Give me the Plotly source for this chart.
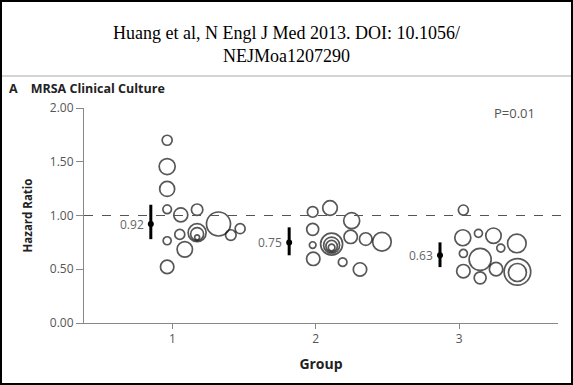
import plotly.graph_objects as go

# ---------------- data ----------------
groups = [1, 2, 3]
group_labels = ["1", "2", "3"]

# pooled estimates per group
est_x = [0.85, 1.815, 2.867]
est_hr = [0.92, 0.75, 0.63]
est_lo = [0.78, 0.63, 0.52]
est_hi = [1.10, 0.89, 0.75]
est_labels = ["0.92", "0.75", "0.63"]

# hospital-level hazard ratios (bubbles), weight = bubble radius in px
g1_x = [0.964, 0.964, 0.964, 0.964, 1.059, 1.173, 1.322, 1.473, 1.408, 0.964, 1.052,
        1.173, 1.173, 1.173, 1.087, 0.964]
g1_hr = [1.70, 1.455, 1.247, 1.058, 1.005, 1.054, 0.921, 0.877, 0.818, 0.765, 0.824,
         0.84, 0.827, 0.797, 0.685, 0.522]
g1_w = [5, 8, 7.5, 4.3, 7, 5.7, 12, 5, 5.3, 4, 5, 9, 6.5, 2.5, 7.7, 6.7]

g2_x = [1.979, 2.10, 2.251, 1.979, 1.979, 2.111, 2.111, 2.111, 2.111, 2.244, 2.349,
        2.462, 1.983, 2.188, 2.309]
g2_hr = [1.033, 1.07, 0.952, 0.871, 0.725, 0.734, 0.724, 0.715, 0.703, 0.802, 0.781,
         0.756, 0.597, 0.566, 0.498]
g2_w = [5.3, 7.3, 8, 6, 3.3, 11, 8, 5.7, 3.3, 6.7, 6.3, 9.3, 6.7, 4.3, 6.7]

g3_x = [3.03, 3.026, 3.135, 3.24, 3.291, 3.403, 3.03, 3.147, 3.258, 3.03, 3.147,
        3.407, 3.407]
g3_hr = [1.051, 0.793, 0.834, 0.812, 0.697, 0.74, 0.647, 0.591, 0.501, 0.482, 0.42,
         0.476, 0.47]
g3_w = [5, 8, 4, 7.7, 4, 9.3, 4, 11, 6.7, 6.7, 6, 13.3, 9]

y_ticks = [0, 0.5, 1.0, 1.5, 2.0]
y_tick_labels = ["0.00", "0.50", "1.00", "1.50", "2.00"]

# ---------------- layout geometry ----------------
W, H = 573, 385
ML, MR, MT, MB = 84, 15, 108, 62
PW, PH = W - ML - MR, H - MT - MB


def px_x(px):
    return (px - ML) / PW


def px_y(py):
    return (H - MB - py) / PH


fig = go.Figure()

for gx, gy, gw in [(g1_x, g1_hr, g1_w), (g2_x, g2_hr, g2_w), (g3_x, g3_hr, g3_w)]:
    fig.add_trace(go.Scatter(
        x=gx, y=gy, mode="markers",
        marker=dict(symbol="circle", size=[2 * w for w in gw],
                    color="rgba(0,0,0,0)",
                    line=dict(color="#111111", width=1.7)),
        hoverinfo="skip", showlegend=False, cliponaxis=False,
    ))

fig.add_trace(go.Scatter(
    x=est_x, y=est_hr, mode="markers",
    marker=dict(symbol="circle", size=6, color="#000000"),
    error_y=dict(type="data", symmetric=False,
                 array=[h - e for h, e in zip(est_hi, est_hr)],
                 arrayminus=[e - l for e, l in zip(est_hr, est_lo)],
                 thickness=3, width=0, color="#000000"),
    hoverinfo="skip", showlegend=False,
))

for x, y, t in zip(est_x, est_hr, est_labels):
    fig.add_annotation(x=x, y=y, text=t, showarrow=False, xanchor="right",
                       yanchor="middle", xshift=-5,
                       font=dict(family="Open Sans", size=12, color="#666666"))

fig.add_annotation(x=3.39, y=1.955, text="P=0.01", showarrow=False,
                   xanchor="center", yanchor="middle",
                   font=dict(family="Open Sans", size=13, color="#555555"))

# reference dashed line at HR = 1
fig.add_shape(type="line", xref="paper", yref="y", x0=0, x1=px_x(566), y0=1, y1=1,
              line=dict(color="#555555", width=1, dash="dash"))

# header separator and outer frame
fig.add_shape(type="line", xref="paper", yref="paper", x0=px_x(2), x1=px_x(573),
              y0=px_y(76), y1=px_y(76), line=dict(color="#aaaaaa", width=1))
fig.add_shape(type="rect", xref="paper", yref="paper", x0=px_x(1), x1=px_x(572),
              y0=px_y(384), y1=px_y(1), line=dict(color="#000000", width=2),
              fillcolor="rgba(0,0,0,0)")

# header text
fig.add_annotation(xref="paper", yref="paper", x=px_x(286.5), y=px_y(44),
                   text="Huang et al, N Engl J Med 2013. DOI: 10.1056/<br>NEJMoa1207290",
                   showarrow=False, xanchor="center", yanchor="middle", align="center",
                   font=dict(family="Liberation Serif", size=18, color="#000000"))
fig.add_annotation(xref="paper", yref="paper", x=px_x(7), y=px_y(88),
                   text="<b>A</b>    <b>MRSA Clinical Culture</b>", showarrow=False,
                   xanchor="left", yanchor="middle",
                   font=dict(family="Open Sans", size=12.5, color="#222222"))

fig.update_layout(
    width=W, height=H,
    margin=dict(l=ML, r=MR, t=MT, b=MB, pad=0),
    paper_bgcolor="white", plot_bgcolor="white",
    font=dict(family="Open Sans", color="#555555"),
    xaxis=dict(range=[0.384, 3.69], tickvals=groups, ticktext=group_labels,
               showgrid=False, zeroline=False, showline=True, linecolor="#888888",
               linewidth=1, ticks="outside", ticklen=5, tickcolor="#888888",
               tickfont=dict(family="Open Sans", size=12, color="#555555"),
               title=dict(text="<b>Group</b>", standoff=12,
                          font=dict(family="Open Sans", size=14, color="#222222"))),
    yaxis=dict(range=[0, 2], tickvals=y_ticks, ticktext=y_tick_labels,
               showgrid=False, zeroline=False, showline=True, linecolor="#888888",
               linewidth=1, ticks="outside", ticklen=7, tickcolor="#888888",
               tickfont=dict(family="Open Sans", size=12, color="#555555"),
               title=dict(text="<b>Hazard Ratio</b>", standoff=14,
                          font=dict(family="Open Sans", size=11.5, color="#222222"))),
)

fig.write_html("out.html", config={"displayModeBar": False},
               post_script="document.body.style.margin='0';")
